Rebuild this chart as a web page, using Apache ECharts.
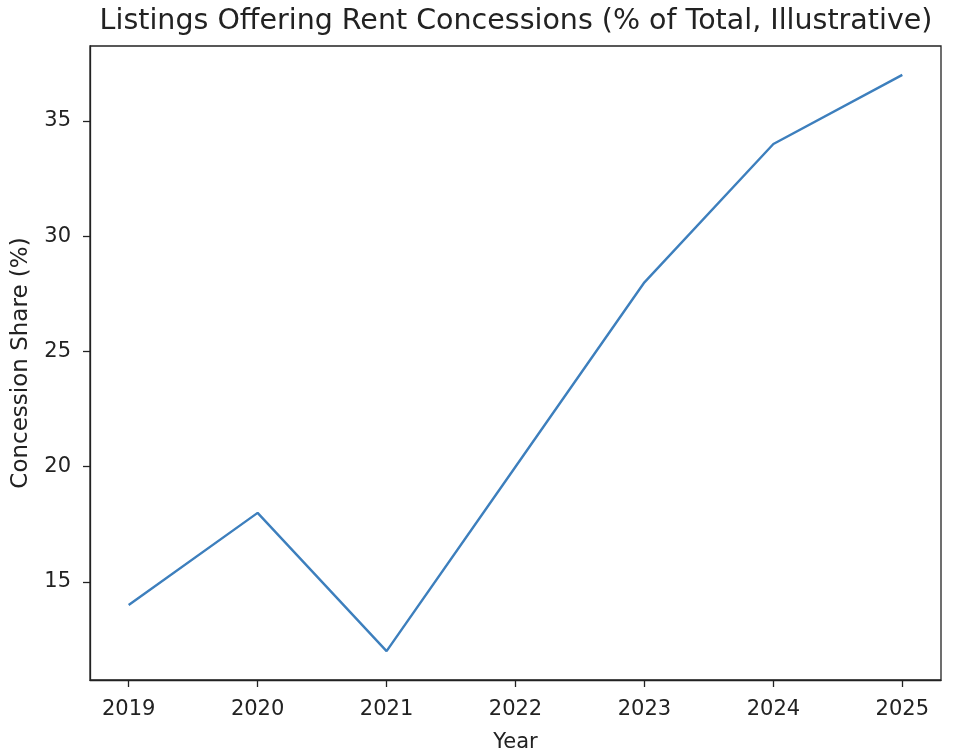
<!DOCTYPE html>
<html><head><meta charset="utf-8">
<script src="https://cdn.jsdelivr.net/npm/echarts@6/dist/echarts.min.js"></script>
<style>html,body{margin:0;padding:0;background:#fff}#c{width:956px;height:753px}</style>
</head><body><div id="c"></div>
<script>
const years = [2019, 2020, 2021, 2022, 2023, 2024, 2025];
const shares = [14, 18, 12, 20, 28, 34, 37];
const yTicks = [15, 20, 25, 30, 35];
const titleText = 'Listings Offering Rent Concessions (% of Total, Illustrative)';

const chart = echarts.init(document.getElementById('c'));
const font = 'DejaVu Sans';
chart.setOption({
  animation: false,
  title: {text: titleText, left: 511, textAlign: 'center', top: 2,
    textStyle: {fontFamily: font, fontSize: 28.5, fontWeight: 'normal', color: '#222'}},
  grid: {left: 90, right: 15, top: 46, bottom: 73, containLabel: false, outerBoundsMode: 'none'},
  xAxis: {type: 'value', min: 2018.7, max: 2025.3,
    name: 'Year', nameLocation: 'middle', nameGap: 52,
    nameTextStyle: {fontFamily: font, fontSize: 21, color: '#222'},
    axisLine: {show: true, onZero: false, lineStyle: {color: '#222', width: 1.3}},
    axisTick: {show: true, length: 7, customValues: years, lineStyle: {color: '#222', width: 1.3}},
    axisLabel: {customValues: years, margin: 19, fontFamily: font, fontSize: 21, color: '#222', formatter: v => String(v)},
    splitLine: {show: false}},
  yAxis: {type: 'value', min: 10.75, max: 38.25,
    name: 'Concession Share (%)', nameLocation: 'middle', nameGap: 57,
    nameTextStyle: {fontFamily: font, fontSize: 23, color: '#222'},
    axisLine: {show: true, onZero: false, lineStyle: {color: '#222', width: 1.3}},
    axisTick: {show: true, length: 7, customValues: yTicks, lineStyle: {color: '#222', width: 1.3}},
    axisLabel: {customValues: yTicks, margin: 19, fontFamily: font, fontSize: 21, color: '#222'},
    splitLine: {show: false}},
  series: [{type: 'line', data: years.map((y, i) => [y, shares[i]]),
    symbol: 'none', lineStyle: {color: '#3d7fbd', width: 2.4}}],
  graphic: [{type: 'rect', shape: {x: 90, y: 46, width: 851, height: 634}, silent: true,
    style: {fill: 'none', stroke: '#222', lineWidth: 1.3}}]
});
</script></body></html>
